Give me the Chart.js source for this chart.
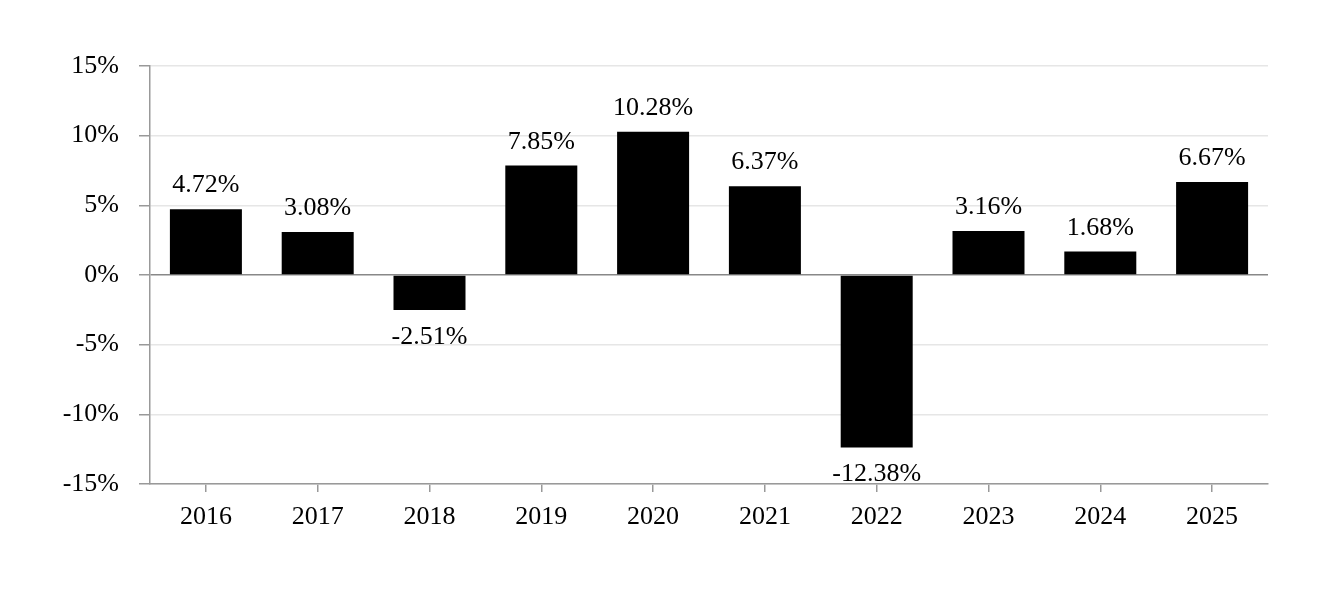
<!DOCTYPE html>
<html>
<head>
<meta charset="utf-8">
<script src="https://cdn.jsdelivr.net/npm/chart.js@4"></script>
<style>
html,body{margin:0;padding:0;background:#fff;}
#wrap{width:1332px;height:594px;position:relative;}
</style>
</head>
<body>
<div id="wrap"><canvas id="c" width="1332" height="594"></canvas></div>
<script>
const categories = ["2016","2017","2018","2019","2020","2021","2022","2023","2024","2025"];
const returns = [4.72, 3.08, -2.51, 7.85, 10.28, 6.37, -12.38, 3.16, 1.68, 6.67];
const yTicks = [-15, -10, -5, 0, 5, 10, 15];

const FONT = "'Liberation Serif', 'Times New Roman', serif";
const FS = 26;

const labelPlugin = {
  id: 'barLabels',
  afterDatasetsDraw(chart) {
    const ctx = chart.ctx;
    const meta = chart.getDatasetMeta(0);
    ctx.save();
    ctx.font = FS + "px " + FONT;
    ctx.fillStyle = "#000";
    ctx.textAlign = "center";
    ctx.textBaseline = "alphabetic";
    meta.data.forEach((bar, i) => {
      const v = returns[i];
      const txt = v.toFixed(2) + "%";
      if (v >= 0) {
        ctx.fillText(txt, bar.x, bar.y - 17);
      } else {
        ctx.fillText(txt, bar.x, bar.y + 34);
      }
    });
    ctx.restore();
  }
};

new Chart(document.getElementById('c'), {
  type: 'bar',
  data: {
    labels: categories,
    datasets: [{
      data: returns,
      backgroundColor: '#000',
      borderWidth: 0,
      categoryPercentage: 1,
      barPercentage: 0.644
    }]
  },
  options: {
    responsive: false,
    animation: false,
    devicePixelRatio: 1,
    layout: { padding: { left: 0, right: 64, top: 66, bottom: 49 } },
    plugins: { legend: { display: false }, tooltip: { enabled: false } },
    scales: {
      x: {
        afterFit(s) { s.height = 61; },
        grid: { offset: false, drawOnChartArea: false, drawTicks: true, tickLength: 8, tickColor: '#999', color: '#999', lineWidth: 1.5 },
        border: { color: '#999', width: 1.5 },
        ticks: { color: '#000', font: { family: FONT, size: FS }, padding: 10, maxRotation: 0 }
      },
      y: {
        min: -15, max: 15,
        afterFit(s) { s.width = 150; },
        afterBuildTicks(s) { s.ticks = yTicks.map(v => ({ value: v })); },
        grid: {
          color: ctx => (ctx.tick && ctx.tick.value === 0) ? '#888' : '#e6e6e6',
          lineWidth: 1.5,
          tickColor: '#999',
          tickLength: 11,
          drawTicks: true
        },
        border: { color: '#999', width: 1.5 },
        ticks: {
          color: '#000',
          font: { family: FONT, size: FS },
          padding: 20,
          callback: v => v + "%"
        }
      }
    }
  },
  plugins: [labelPlugin]
});
</script>
</body>
</html>
